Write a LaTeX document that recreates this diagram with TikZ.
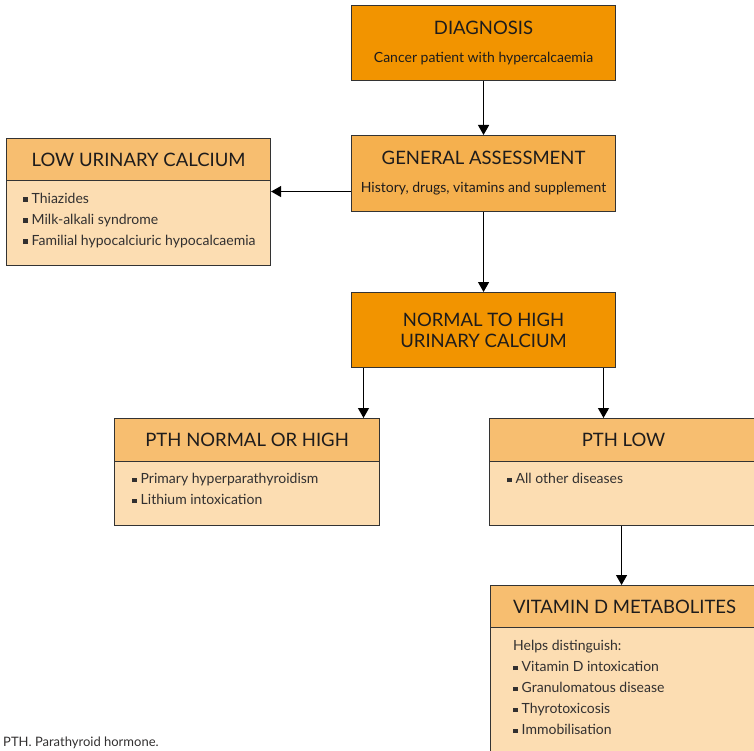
\documentclass[tikz,border=0pt]{standalone}
\usepackage{fontspec}
\setmainfont{Lato}
\usetikzlibrary{positioning,arrows.meta}
\definecolor{deeporange}{RGB}{242,148,0}
\definecolor{midorange}{RGB}{245,176,78}
\definecolor{headorange}{RGB}{247,190,112}
\definecolor{paleorange}{RGB}{252,221,178}
\definecolor{titleink}{RGB}{30,28,28}
\definecolor{listink}{RGB}{50,48,48}
\newcommand{\titlefont}{\fontsize{18.5}{21}\selectfont}
\newcommand{\listfont}{\fontsize{14}{21}\selectfont}
\newcommand{\bul}{\rule[1.5pt]{4.5pt}{4.5pt}\hspace{4pt}}
\begin{document}
\begin{tikzpicture}
[x=1pt,y=-1pt,
 boxdecorate/.style={draw=black!80,line width=1.1pt,anchor=north west,inner sep=0pt},
 darkbox/.style={boxdecorate,fill=deeporange,minimum width=264pt,minimum height=75pt,
   align=center,font=\titlefont,text=titleink},
 headbox/.style={boxdecorate,fill=headorange,minimum height=42pt,font=\titlefont,text=titleink},
 bodybox/.style={boxdecorate,fill=paleorange},
 itemtext/.style={anchor=west,inner sep=0pt,font=\listfont,text=listink,
   text height=10pt,text depth=3pt},
 arrowdecorate/.style={line width=1.2pt,-{Triangle[width=11pt,length=10pt]}}]
\useasboundingbox (0,0) rectangle (754,751);
%% main column
\node[darkbox] (diag) at (351,5)
  {DIAGNOSIS\\[7pt]{\listfont Cancer patient with hypercalcaemia}};
\node[darkbox,fill=midorange,minimum height=76pt] (assess) at (351,135)
  {GENERAL ASSESSMENT\\[7pt]{\listfont History, drugs, vitamins and supplement}};
\node[darkbox] (normhigh) at (351,292) {NORMAL TO HIGH\\URINARY CALCIUM};
%% low urinary calcium
\node[headbox,minimum width=264pt] (lowhead) at (6,138) {LOW URINARY CALCIUM};
\node[bodybox,minimum width=264pt,minimum height=85pt] (lowbody) at (6,180) {};
\foreach \t [count=\i] in {Thiazides, Milk-alkali syndrome,
  Familial hypocalciuric hypocalcaemia}
  \node[itemtext] (low\i) at (23,200+21*\i-21) {\bul\t};
%% pth normal or high
\node[headbox,minimum width=265pt,minimum height=43pt] (highhead) at (114,418) {PTH NORMAL OR HIGH};
\node[bodybox,minimum width=265pt,minimum height=64pt] (highbody) at (114,461) {};
\foreach \t [count=\i] in {Primary hyperparathyroidism, Lithium intoxication}
  \node[itemtext] (high\i) at (132,480+21*\i-21) {\bul\t};
%% pth low
\node[headbox,minimum width=268pt,minimum height=43pt] (lowpthhead) at (489,418) {PTH LOW};
\node[bodybox,minimum width=268pt,minimum height=64pt] (lowpthbody) at (489,461) {};
\node[itemtext] (lowpth1) at (507,480) {\bul All other diseases};
%% vitamin d
\node[headbox,minimum width=268pt] (vithead) at (490,585) {VITAMIN D METABOLITES};
\node[bodybox,minimum width=268pt,minimum height=130pt] (vitbody) at (490,627) {};
\node[itemtext] (vit0) at (513,647) {Helps distinguish:};
\foreach \t [count=\i] in {Vitamin D intoxication, Granulomatous disease,
  Thyrotoxicosis, Immobilisation}
  \node[itemtext] (vit\i) at (513,647+21*\i) {\bul\t};
%% footnote
\node[anchor=west,inner sep=0pt,font=\fontsize{13}{15}\selectfont,text=listink] (foot) at (3,743)
  {PTH. Parathyroid hormone.};
%% arrows
\draw[arrowdecorate] (diag) -- (assess);
\draw[arrowdecorate] ([yshift=-18pt]assess.west) -- ([yshift=-18pt]assess.west -| lowbody.east);
\draw[arrowdecorate] (assess) -- (normhigh);
\draw[arrowdecorate] ([xshift=12.5pt]normhigh.south west) -- ([xshift=12.5pt]normhigh.south west |- highhead.north);
\draw[arrowdecorate] ([xshift=-12.6pt]normhigh.south east) -- ([xshift=-12.6pt]normhigh.south east |- lowpthhead.north);
\draw[arrowdecorate] ([xshift=-2pt]lowpthbody.south) -- ([xshift=-2pt]lowpthbody.south |- vithead.north);
\end{tikzpicture}
\end{document}
